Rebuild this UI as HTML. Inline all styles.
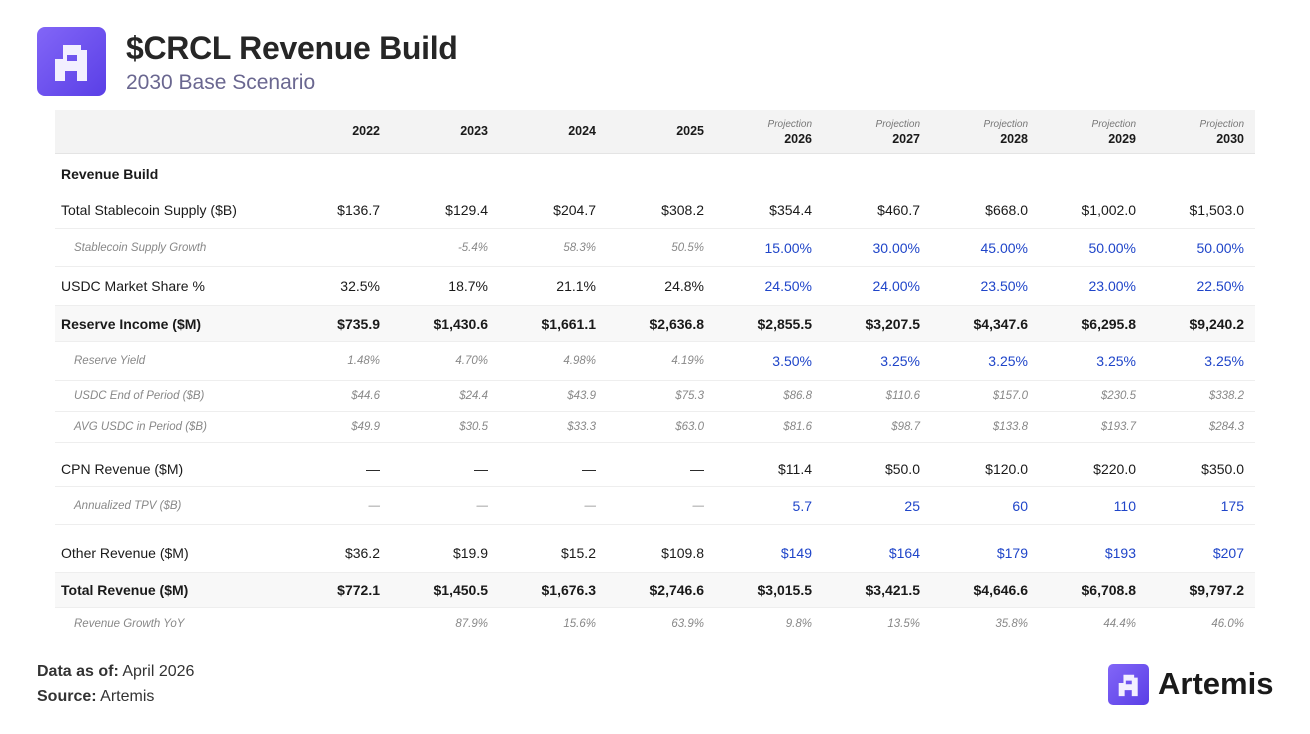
<!DOCTYPE html>
<html><head><meta charset="utf-8"><style>
*{margin:0;padding:0;box-sizing:border-box}
body{width:1310px;height:734px;background:#fff;font-family:"Liberation Sans",sans-serif;position:relative;overflow:hidden;color:#1a1a1a}
.logo{position:absolute;left:37px;top:27px;width:69px;height:69px;border-radius:8px;background:linear-gradient(135deg,#8266f7,#5a3fe6)}
.title{position:absolute;left:126px;top:30px;font-size:32px;font-weight:bold;color:#262626;letter-spacing:-0.3px}
.sub{position:absolute;left:126px;top:71px;font-size:21px;color:#6a6790}
.row{position:absolute;left:55px;width:1200px;display:grid;grid-template-columns:217px repeat(9,108px);padding-right:12px;align-items:center;border-bottom:1px solid #eeeeee}
.row>span{text-align:right;font-size:14px}
.row>span:first-child{text-align:left;padding-left:6px}
.b>span{font-weight:bold}
.band{background:#f8f8f8}
.it>span{font-style:italic;font-size:11.5px;color:#888}
.it>span:first-child{padding-left:19px}
.bl{color:#1f45c9!important;font-style:normal!important;font-size:14px!important}
.hd{background:#f3f3f3;top:110px;height:44px;border-bottom:1px solid #e4e4e4}
.hd span{font-weight:bold;font-size:12.5px;line-height:15px}
.hd i{display:block;font-weight:normal;font-size:10px;color:#777}
.foot{position:absolute;left:37px;font-size:16px;color:#333}
</style></head><body>
<div class="logo"><svg width="69" height="69" viewBox="0 0 69 69"><path d="M26 18h18v5h6v31h-10v-10h-12v10h-10v-22h8zM30 28v6h10v-6z" fill="#f2efff"/></svg></div>
<div class="title">$CRCL Revenue Build</div>
<div class="sub">2030 Base Scenario</div>

<div class="row hd"><span></span><span>2022</span><span>2023</span><span>2024</span><span>2025</span><span><i>Projection</i>2026</span><span><i>Projection</i>2027</span><span><i>Projection</i>2028</span><span><i>Projection</i>2029</span><span><i>Projection</i>2030</span></div>

<div class="row b" style="top:155px;height:37px;border:none"><span>Revenue Build</span></div>
<div class="row" style="top:192px;height:37px"><span>Total Stablecoin Supply ($B)</span><span>$136.7</span><span>$129.4</span><span>$204.7</span><span>$308.2</span><span>$354.4</span><span>$460.7</span><span>$668.0</span><span>$1,002.0</span><span>$1,503.0</span></div>
<div class="row it" style="top:229px;height:38px"><span>Stablecoin Supply Growth</span><span></span><span>-5.4%</span><span>58.3%</span><span>50.5%</span><span class="bl">15.00%</span><span class="bl">30.00%</span><span class="bl">45.00%</span><span class="bl">50.00%</span><span class="bl">50.00%</span></div>
<div class="row" style="top:267px;height:39px"><span>USDC Market Share %</span><span>32.5%</span><span>18.7%</span><span>21.1%</span><span>24.8%</span><span class="bl">24.50%</span><span class="bl">24.00%</span><span class="bl">23.50%</span><span class="bl">23.00%</span><span class="bl">22.50%</span></div>
<div class="row b band" style="top:306px;height:36px"><span>Reserve Income ($M)</span><span>$735.9</span><span>$1,430.6</span><span>$1,661.1</span><span>$2,636.8</span><span>$2,855.5</span><span>$3,207.5</span><span>$4,347.6</span><span>$6,295.8</span><span>$9,240.2</span></div>
<div class="row it" style="top:342px;height:39px"><span>Reserve Yield</span><span>1.48%</span><span>4.70%</span><span>4.98%</span><span>4.19%</span><span class="bl">3.50%</span><span class="bl">3.25%</span><span class="bl">3.25%</span><span class="bl">3.25%</span><span class="bl">3.25%</span></div>
<div class="row it" style="top:381px;height:31px"><span>USDC End of Period ($B)</span><span>$44.6</span><span>$24.4</span><span>$43.9</span><span>$75.3</span><span>$86.8</span><span>$110.6</span><span>$157.0</span><span>$230.5</span><span>$338.2</span></div>
<div class="row it" style="top:412px;height:31px"><span>AVG USDC in Period ($B)</span><span>$49.9</span><span>$30.5</span><span>$33.3</span><span>$63.0</span><span>$81.6</span><span>$98.7</span><span>$133.8</span><span>$193.7</span><span>$284.3</span></div>
<div class="row" style="top:443px;height:44px;padding-top:8px"><span>CPN Revenue ($M)</span><span>—</span><span>—</span><span>—</span><span>—</span><span>$11.4</span><span>$50.0</span><span>$120.0</span><span>$220.0</span><span>$350.0</span></div>
<div class="row it" style="top:487px;height:38px"><span>Annualized TPV ($B)</span><span>—</span><span>—</span><span>—</span><span>—</span><span class="bl">5.7</span><span class="bl">25</span><span class="bl">60</span><span class="bl">110</span><span class="bl">175</span></div>
<div class="row" style="top:525px;height:48px;padding-top:9px"><span>Other Revenue ($M)</span><span>$36.2</span><span>$19.9</span><span>$15.2</span><span>$109.8</span><span class="bl">$149</span><span class="bl">$164</span><span class="bl">$179</span><span class="bl">$193</span><span class="bl">$207</span></div>
<div class="row b band" style="top:573px;height:35px"><span>Total Revenue ($M)</span><span>$772.1</span><span>$1,450.5</span><span>$1,676.3</span><span>$2,746.6</span><span>$3,015.5</span><span>$3,421.5</span><span>$4,646.6</span><span>$6,708.8</span><span>$9,797.2</span></div>
<div class="row it" style="top:608px;height:32px;border:none"><span>Revenue Growth YoY</span><span></span><span>87.9%</span><span>15.6%</span><span>63.9%</span><span>9.8%</span><span>13.5%</span><span>35.8%</span><span>44.4%</span><span>46.0%</span></div>

<div class="foot" style="top:663px"><b>Data as of:</b> April 2026</div>
<div class="foot" style="top:688px"><b>Source:</b> Artemis</div>

<div style="position:absolute;left:1108px;top:664px;width:41px;height:41px;border-radius:5px;background:linear-gradient(135deg,#8266f7,#5a3fe6)"><svg width="41" height="41" viewBox="0 0 69 69"><path d="M26 18h18v5h6v31h-10v-10h-12v10h-10v-22h8zM30 28v6h10v-6z" fill="#f2efff"/></svg></div>
<div style="position:absolute;left:1158px;top:666px;font-size:31px;font-weight:bold;color:#1a1a1a;letter-spacing:0px">Artemis</div>
</body></html>
